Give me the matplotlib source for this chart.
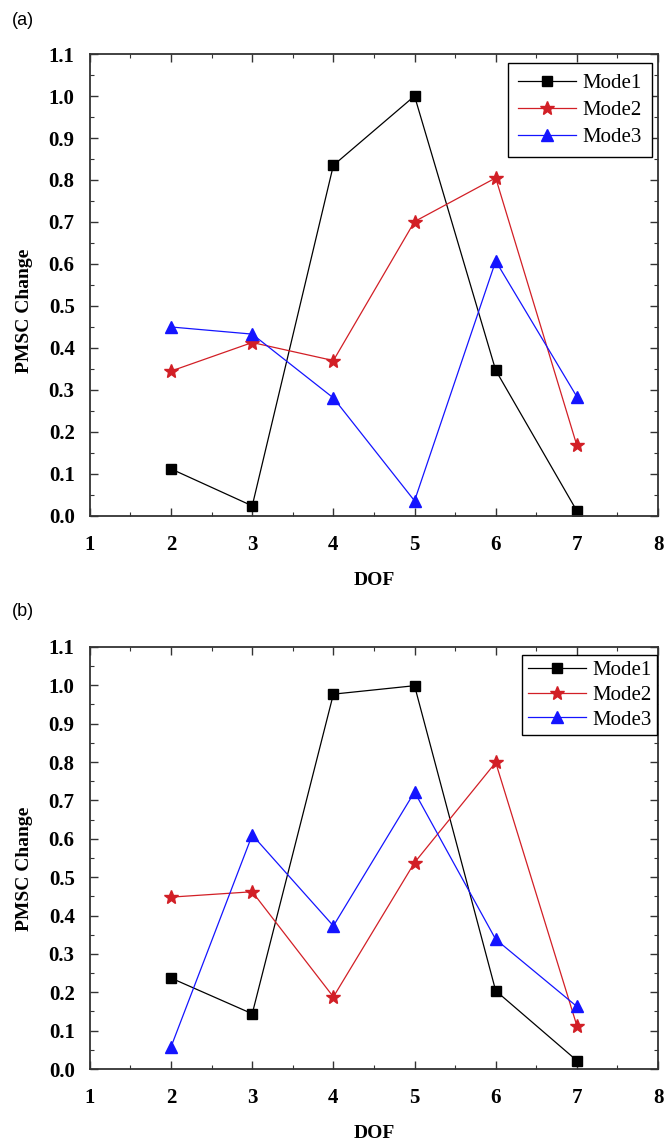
import numpy as np
import matplotlib.pyplot as plt
from matplotlib.ticker import MultipleLocator

dof = [2, 3, 4, 5, 6, 7]

# panel (a)
mode1_a = [0.112, 0.024, 0.835, 1.0, 0.347, 0.012]
mode2_a = [0.345, 0.413, 0.370, 0.701, 0.805, 0.168]
mode3_a = [0.450, 0.433, 0.281, 0.036, 0.607, 0.284]

# panel (b)
mode1_b = [0.237, 0.144, 0.977, 0.999, 0.204, 0.022]
mode2_b = [0.448, 0.462, 0.188, 0.538, 0.799, 0.113]
mode3_b = [0.058, 0.610, 0.373, 0.722, 0.338, 0.163]

labels = ["Mode1", "Mode2", "Mode3"]
colors = ["black", "#d21f26", "#1414ff"]
markers = ["s", "*", "^"]
msizes = [7.5, 10, 9]

serif = ["Liberation Serif", "DejaVu Serif"]

fig = plt.figure(figsize=(6.66, 11.42), dpi=100)


def draw_panel(rect, series, tag, tag_y, ylab_y, legend_kw):
    ax = fig.add_axes(rect)
    for vals, lab, c, m, ms in zip(series, labels, colors, markers, msizes):
        ax.plot(dof, vals, color=c, marker=m, markersize=ms, linewidth=0.9,
                markeredgecolor=c, label=lab)
    ax.set_xlim(1, 8)
    ax.set_ylim(0, 1.1)
    ax.xaxis.set_major_locator(MultipleLocator(1))
    ax.xaxis.set_minor_locator(MultipleLocator(0.5))
    ax.yaxis.set_major_locator(MultipleLocator(0.1))
    ax.yaxis.set_minor_locator(MultipleLocator(0.05))
    ax.tick_params(which="both", direction="in", top=True, right=True,
                   color="#333333")
    ax.tick_params(which="major", length=6, width=1.0)
    ax.tick_params(which="minor", length=3, width=0.8)
    ax.tick_params(axis="x", which="major", pad=14)
    ax.tick_params(axis="y", which="major", pad=11)
    ax.set_yticks(np.arange(0, 1.11, 0.1))
    ax.set_yticklabels([f"{v:.1f}" for v in np.arange(0, 1.11, 0.1)])
    for lab in ax.get_xticklabels() + ax.get_yticklabels():
        lab.set_fontfamily(serif)
        lab.set_fontweight("bold")
        lab.set_fontsize(15)
    for sp in ax.spines.values():
        sp.set_linewidth(1.3)
        sp.set_color("#333333")
    ax.set_xlabel("DOF", fontfamily=serif, fontweight="bold", fontsize=14,
                  labelpad=12)
    ax.set_ylabel("PMSC Change", fontfamily=serif, fontweight="bold",
                  fontsize=14)
    ax.yaxis.set_label_coords(-0.1, ylab_y)
    leg = ax.legend(prop={"family": serif, "size": 15}, fancybox=False,
                    edgecolor="black", framealpha=1, handlelength=2.8,
                    handletextpad=0.3, borderaxespad=0, **legend_kw)
    leg.get_frame().set_linewidth(1.0)
    fig.text(0.018, tag_y, tag, fontfamily=["Liberation Sans", "DejaVu Sans"],
             fontsize=13, va="center")
    return ax


draw_panel([0.135, 0.5482, 0.853, 0.4045], [mode1_a, mode2_a, mode3_a],
           "(a)", 0.982, 0.445,
           dict(loc="upper right", bbox_to_anchor=(0.99, 0.98),
                borderpad=0.5, labelspacing=0.35))
draw_panel([0.135, 0.0639, 0.853, 0.3696], [mode1_b, mode2_b, mode3_b],
           "(b)", 0.4645, 0.475,
           dict(loc="upper right", bbox_to_anchor=(0.998, 0.98),
                borderpad=0.25, labelspacing=0.25))

fig.savefig("out.png", dpi=100)
